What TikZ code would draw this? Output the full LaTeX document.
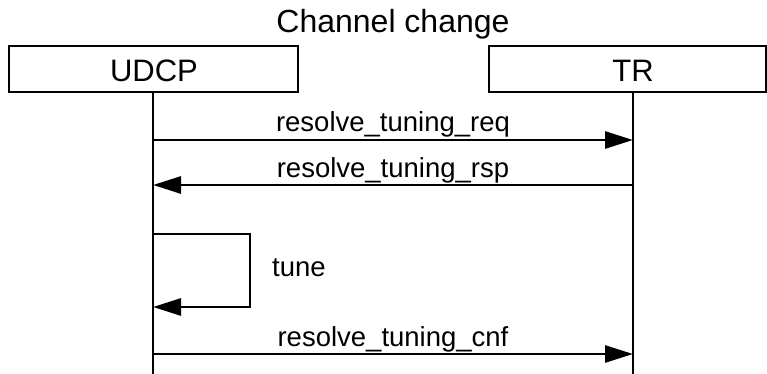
\documentclass[tikz,border=0pt]{standalone}
\usepackage{fontspec}
\setmainfont{Liberation Sans}
\usetikzlibrary{arrows.meta}
\begin{document}
\begin{tikzpicture}[x=1pt,y=-1pt,
  actorbox/.style={draw, line width=2pt, inner sep=0pt, minimum height=46pt},
  actorlabel/.style={anchor=base, inner sep=0pt, font=\fontsize{31}{36}\selectfont},
  lifeline/.style={line width=2.8pt},
  msg/.style={line width=2.8pt, -{Triangle[length=28pt,width=17pt]}},
  msglabel/.style={anchor=base, inner sep=0pt, font=\fontsize{27.5}{32}\selectfont}]
\useasboundingbox (0,0) rectangle (767,374);
% title
\node[anchor=base, inner sep=0pt, font=\fontsize{32}{38}\selectfont] (title) at (393,33) {Channel change};
% actors
\node[actorbox, minimum width=289pt] (udcpbox) at (153.5,69) {};
\node[actorbox, minimum width=277pt] (trbox) at (627.5,69) {};
\node[actorlabel] (udcplabel) at (154,82) {UDCP};
\node[actorlabel] (trlabel) at (633,82) {TR};
% lifelines
\coordinate (udcptop) at (153,92);
\coordinate (udcpbot) at (153,374);
\coordinate (trtop) at (633,92);
\coordinate (trbot) at (633,374);
\draw[lifeline] (udcptop) -- (udcpbot);
\draw[lifeline] (trtop) -- (trbot);
% message 1
\coordinate (u1) at (153,140);
\coordinate (t1) at (633,140);
\draw[msg] (u1) -- (t1);
\node[msglabel] (l1) at (393,132) {resolve\_tuning\_req};
% message 2
\coordinate (u2) at (153,185);
\coordinate (t2) at (633,185);
\draw[msg] (t2) -- (u2);
\node[msglabel] (l2) at (393,177) {resolve\_tuning\_rsp};
% self message
\coordinate (s1) at (153,234);
\coordinate (s2) at (250,234);
\coordinate (s3) at (250,307);
\coordinate (s4) at (153,307);
\draw[msg] (s1) -- (s2) -- (s3) -- (s4);
\node[msglabel, anchor=base west] (l3) at (272,276) {tune};
% message 4
\coordinate (u4) at (153,354);
\coordinate (t4) at (633,354);
\draw[msg] (u4) -- (t4);
\node[msglabel] (l4) at (393,346) {resolve\_tuning\_cnf};
\end{tikzpicture}
\end{document}
